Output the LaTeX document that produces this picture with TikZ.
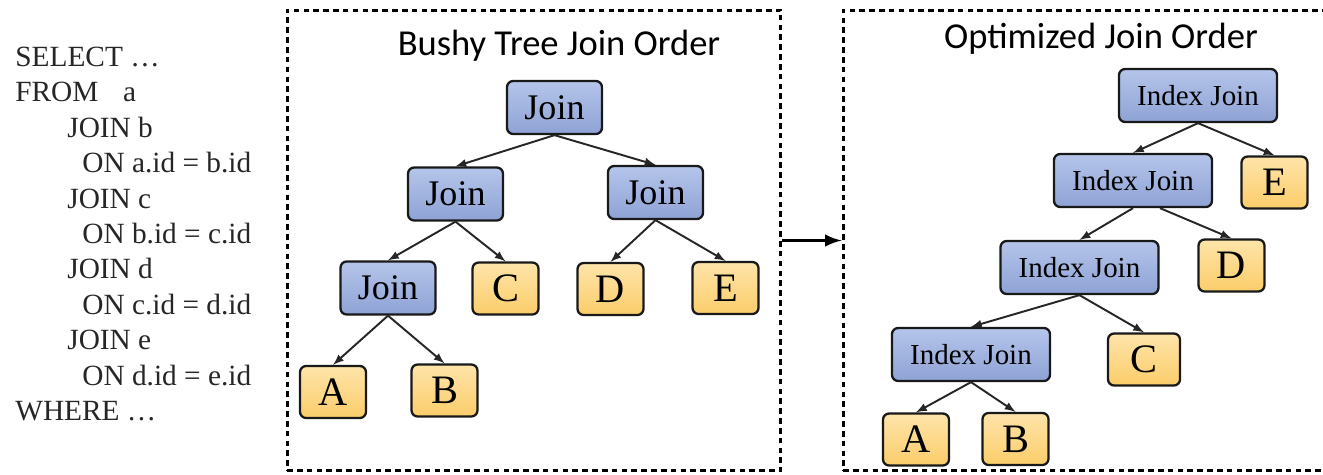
\documentclass[tikz,border=0pt]{standalone}
\usepackage{fontspec}
\setmainfont{Liberation Serif}
\newfontfamily\titlefont{Carlito}
\usetikzlibrary{arrows}

\definecolor{joinTop}{HTML}{B5C5EA}
\definecolor{joinBot}{HTML}{8EA2D5}
\definecolor{leafTop}{HTML}{FEE4AA}
\definecolor{leafBot}{HTML}{FBCD6A}

\tikzset{
    box/.style={draw=black!90, line width=1.3pt, rounded corners=3.5pt, inner sep=0pt, minimum height=1.06cm},
    joinbox/.style={box, top color=joinTop, bottom color=joinBot, minimum width=1.9cm, font=\fontsize{20.5}{24}\selectfont},
    idxbox/.style={box, top color=joinTop, bottom color=joinBot, minimum width=3.16cm, font=\fontsize{16.5}{20}\selectfont},
    leaf/.style={box, top color=leafTop, bottom color=leafBot, minimum width=1.32cm, minimum height=1.04cm, font=\fontsize{23}{26}\selectfont},
    edge/.style={-latex, line width=1.1pt, black!85},
    panel/.style={draw, line width=1.7pt, dash pattern=on 3.2pt off 2.4pt, inner sep=0pt},
    title/.style={font=\titlefont\fontsize{20.8}{24}\selectfont, anchor=base, inner sep=0pt},
    sqlline/.style={font=\fontsize{16.7}{20}\selectfont, anchor=base west, inner sep=0pt, text=black!85}
}

\begin{document}
\begin{tikzpicture}[x=0.02cm, y=-0.02cm]

\useasboundingbox (0,0) rectangle (1323,474);

% query text
\foreach \txt/\xx [count=\i from 0] in {{SELECT …}/15, {FROM\hspace{14pt}a}/15,
        {JOIN b}/67, {ON a.id = b.id}/82, {JOIN c}/67, {ON b.id = c.id}/82,
        {JOIN d}/67, {ON c.id = d.id}/82, {JOIN e}/67, {ON d.id = e.id}/82,
        {WHERE …}/15}
    \node[sqlline] (sql\i) at (\xx, {66.5+35.4*\i}) {\txt};

% panels
\node[panel, minimum width=9.88cm, minimum height=9.22cm] (panelL) at (534,240.5) {};
\node[panel, minimum width=9.78cm, minimum height=9.22cm] (panelR) at (1087.5,240.5) {};

\draw[-latex, line width=2.2pt] (panelL.east) -- (panelR.west);

\node[title] (titleL) at (559,55) {Bushy Tree Join Order};
\node[title] (titleR) at (1101,48) {Optimized Join Order};

% bushy tree
\node[joinbox] (j1) at (554.5,107.5) {Join};
\node[joinbox] (j2) at (455.5,194) {Join};
\node[joinbox] (j3) at (655.5,192.5) {Join};
\node[joinbox] (j4) at (388,288) {Join};

\node[leaf] (c1) at (505.5,288.5) {C};
\node[leaf] (d1) at (610.5,289) {D};
\node[leaf] (e1) at (725.5,288) {E};
\node[leaf] (a1) at (333,392) {A};
\node[leaf] (b1) at (444.5,390.5) {B};

\foreach \p/\c in {j1/j2, j1/j3, j2/j4, j2/c1, j3/d1, j3/e1, j4/a1, j4/b1}
    \draw[edge] (\p.south) -- (\c.north);

% optimized (left-deep) tree
\node[idxbox] (ij1) at (1198,95.5) {Index Join};
\node[idxbox] (ij2) at (1133,180.5) {Index Join};
\node[idxbox] (ij3) at (1079.5,267.5) {Index Join};
\node[idxbox] (ij4) at (971,354.5) {Index Join};

\node[leaf] (e2) at (1274.5,182.5) {E};
\node[leaf] (d2) at (1231.5,265.5) {D};
\node[leaf, minimum width=1.44cm] (c2) at (1144,359.5) {C};
\node[leaf] (a2) at (916,439.5) {A};
\node[leaf] (b2) at (1015.5,439) {B};

\foreach \p/\c in {ij1/ij2, ij1/e2, ij2/ij3, ij3/ij4, ij3/c2, ij4/a2, ij4/b2}
    \draw[edge] (\p.south) -- (\c.north);
\draw[edge] ([xshift=27*0.02cm]ij2.south) -- (d2.north);

\end{tikzpicture}
\end{document}
